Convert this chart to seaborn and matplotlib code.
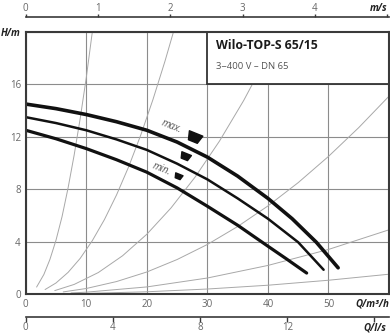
import numpy as np
import pandas as pd
import matplotlib
matplotlib.use("Agg")
import matplotlib.pyplot as plt
import seaborn as sns
from matplotlib.patches import Rectangle
from matplotlib.path import Path
from matplotlib.transforms import Affine2D

# ---------------- data ----------------
q_max = [0, 5, 10, 15, 20, 25, 30, 35, 40, 44, 48, 51.6]
h_max = [14.5, 14.15, 13.7, 13.15, 12.5, 11.6, 10.45, 9.0, 7.3, 5.75, 3.95, 2.0]
q_mid = [0, 5, 10, 15, 20, 25, 30, 35, 40, 45, 49.2]
h_mid = [13.5, 13.05, 12.5, 11.8, 11.0, 9.95, 8.75, 7.3, 5.75, 3.95, 1.85]
q_min = [0, 5, 10, 15, 20, 25, 30, 35, 40, 43, 46.4]
h_min = [12.5, 11.85, 11.1, 10.25, 9.3, 8.1, 6.7, 5.25, 3.65, 2.7, 1.6]

# system curves (thin grey)
sys1_q = [1.8, 3, 4, 5, 6, 7, 8, 9, 10, 11]
sys1_h = [0.53, 1.49, 2.64, 4.1, 5.9, 8.1, 10.6, 13.4, 16.5, 20.0]
sys2_q = [3.2, 5, 7, 9, 11, 13, 15, 17, 19, 21, 23, 24.4]
sys2_h = [0.34, 0.84, 1.65, 2.72, 4.07, 5.68, 7.56, 9.71, 12.13, 14.82, 17.77, 20.0]
sys3_q = [4.8, 8, 12, 16, 20, 24, 28, 32, 36, 40, 41.9]
sys3_h = [0.26, 0.73, 1.64, 2.92, 4.56, 6.57, 8.94, 11.67, 14.77, 18.24, 20.0]
sys4_q = [6.2, 10, 15, 20, 25, 30, 35, 40, 45, 50, 55, 60]
sys4_h = [0.16, 0.42, 0.95, 1.68, 2.63, 3.78, 5.15, 6.72, 8.5, 10.5, 12.7, 15.1]
sys5_q = [7.5, 10, 20, 30, 40, 50, 60]
sys5_h = [0.08, 0.14, 0.54, 1.22, 2.18, 3.4, 4.9]
sys6_q = [9, 20, 30, 40, 50, 60]
sys6_h = [0.03, 0.17, 0.38, 0.67, 1.05, 1.51]

x_ticks = [0, 10, 20, 30, 40, 50, 60]
x_labels = ["0", "10", "20", "30", "40", "50", "Q/m³/h"]
y_ticks = [0, 4, 8, 12, 16, 20]
y_labels = ["0", "4", "8", "12", "16", "H/m"]
v_ticks = [0, 1, 2, 3, 4, 5]
v_labels = ["0", "1", "2", "3", "4", "m/s"]
l_ticks = [0, 4, 8, 12, 16]
l_labels = ["0", "4", "8", "12", "Q/l/s"]

title = "Wilo-TOP-S 65/15"
subtitle = "3~400 V – DN 65"

# ---------------- style ----------------
sns.set_theme(style="white")
plt.rcParams["font.family"] = ["Open Sans", "DejaVu Sans"]

W, H = 390, 336
fig = plt.figure(figsize=(W / 100, H / 100), dpi=100)
ax_l, ax_r, ax_t, ax_b = 25.7, 389, 32, 294
ax = fig.add_axes([ax_l / W, (H - ax_b) / H, (ax_r - ax_l) / W, (ax_b - ax_t) / H])
ax.set_xlim(0, 60)
ax.set_ylim(0, 20)

grid_c = "#8c8c8c"
ax.grid(True, color=grid_c, lw=0.8, zorder=0)
ax.set_axisbelow(True)

sys_c = "#a8a8a8"
for qs, hs in [(sys1_q, sys1_h), (sys2_q, sys2_h), (sys3_q, sys3_h),
               (sys4_q, sys4_h), (sys5_q, sys5_h), (sys6_q, sys6_h)]:
    sns.lineplot(x=qs, y=hs, ax=ax, color=sys_c, lw=0.7, zorder=1)

# title box
box = Rectangle((30, 16), 30, 4, facecolor="white", edgecolor="#333333",
                lw=1.3, zorder=3)
ax.add_patch(box)
ax.text(31.4, 18.95, title, fontsize=8.8, fontweight="bold", color="#1a1a1a",
        va="center", ha="left", zorder=4)
ax.text(31.4, 17.35, subtitle, fontsize=6.8, color="#555555",
        va="center", ha="left", zorder=4)

for qs, hs, lw in [(q_max, h_max, 2.6), (q_mid, h_mid, 1.8), (q_min, h_min, 2.3)]:
    sns.lineplot(x=qs, y=hs, ax=ax, color="#111111", lw=lw, zorder=2)

# speed labels and icons
ax.text(24.0, 12.75, "max.", fontsize=7, style="italic", color="#555555",
        rotation=-22, ha="center", va="center")
ax.text(22.4, 9.5, "min.", fontsize=7, style="italic", color="#555555",
        rotation=-22, ha="center", va="center")
trap = Path([(-0.5, 0.3), (0.5, 0.3), (0.33, -0.3), (-0.33, -0.3), (-0.5, 0.3)],
            [Path.MOVETO, Path.LINETO, Path.LINETO, Path.LINETO, Path.CLOSEPOLY])
trap = trap.transformed(Affine2D().rotate_deg(-22))
for (qx, hy, ms) in [(27.8, 12.0, 12), (26.3, 10.5, 8.5), (25.2, 9.0, 6.5)]:
    ax.plot([qx], [hy], marker=trap, ms=ms, color="#111111", mec="#111111", lw=0)

# main axis ticks
spine_c = "#3a3a3a"
for s in ax.spines.values():
    s.set_color(spine_c)
    s.set_linewidth(1.5)
    s.set_zorder(5)
ax.set_xticks(x_ticks)
ax.set_xticklabels(x_labels)
ax.set_yticks(y_ticks)
ax.set_yticklabels(y_labels)
ax.tick_params(length=0, labelsize=7, labelcolor="#666666", pad=3.5)
xl = ax.get_xticklabels()[-1]
xl.set_fontweight("bold"); xl.set_style("italic"); xl.set_color("#222222"); xl.set_ha("right")
yl = ax.get_yticklabels()[-1]
yl.set_fontweight("bold"); yl.set_style("italic"); yl.set_color("#222222")

# velocity axis (top)
A = np.pi * 0.065 ** 2 / 4
def q2v(q):
    return np.asarray(q, dtype=float) / 3600.0 / A
def v2q(v):
    return np.asarray(v, dtype=float) * 3600.0 * A
axh = ax_b - ax_t
top = ax.secondary_xaxis(1 + 15 / axh, functions=(q2v, v2q))
top.set_xticks(v_ticks)
top.set_xticklabels(v_labels)
top.tick_params(direction="out", length=2.5, width=1, color=spine_c,
                labelsize=7, labelcolor="#666666", pad=-0.5)
for s in top.spines.values():
    s.set_color(spine_c); s.set_linewidth(1.2)
tl = top.get_xticklabels()[-1]
tl.set_fontweight("bold"); tl.set_style("italic"); tl.set_color("#222222"); tl.set_ha("right")

# l/s axis (bottom)
def q2l(q):
    return np.asarray(q, dtype=float) / 3.6
def l2q(l):
    return np.asarray(l, dtype=float) * 3.6
bot = ax.secondary_xaxis(-22.7 / axh, functions=(q2l, l2q))
bot.set_xticks(l_ticks)
bot.set_xticklabels(l_labels)
bot.tick_params(direction="out", length=3.5, width=1, color=spine_c,
                labelsize=7, labelcolor="#666666", pad=0.5)
for s in bot.spines.values():
    s.set_color(spine_c); s.set_linewidth(1.2)
bl = bot.get_xticklabels()[-1]
bl.set_fontweight("bold"); bl.set_style("italic"); bl.set_color("#222222")

fig.savefig("out.png", dpi=100)
